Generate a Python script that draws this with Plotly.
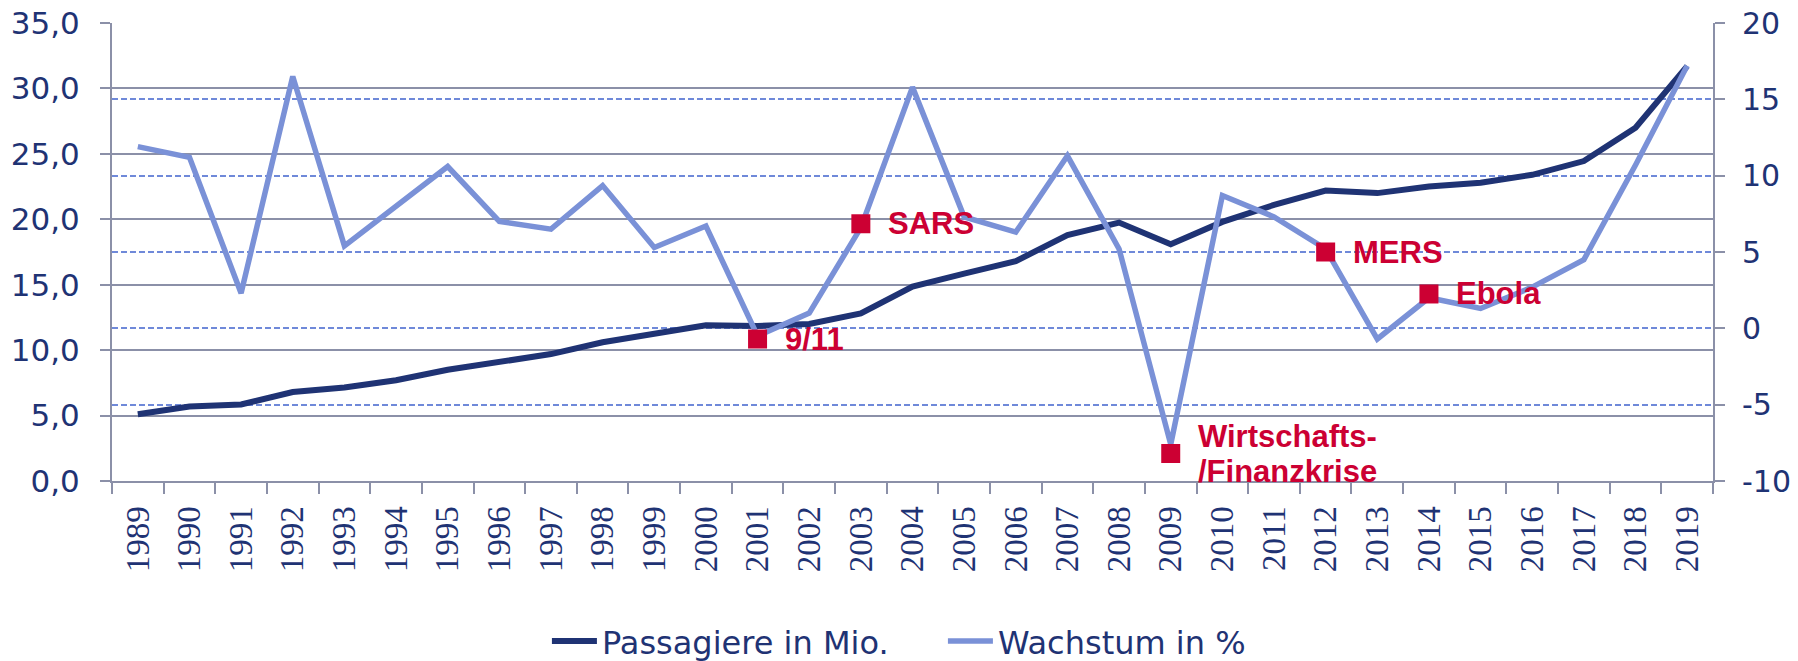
import plotly.graph_objects as go

years = [str(y) for y in range(1989, 2020)]
passagiere = [5.1, 5.7, 5.85, 6.8, 7.15, 7.7, 8.5, 9.1, 9.7, 10.6, 11.2, 11.9, 11.85, 12.0, 12.8,
              14.85, 15.85, 16.8, 18.8, 19.75, 18.1, 19.8, 21.1, 22.2, 22.0, 22.5, 22.8, 23.4, 24.45, 27.0, 31.7]
wachstum = [11.9, 11.2, 2.3, 16.5, 5.4, 8.0, 10.6, 7.0, 6.5, 9.35, 5.3, 6.7, -0.5, 1.0, 6.6,
            15.8, 7.3, 6.3, 11.3, 5.2, -7.6, 8.7, 7.3, 5.2, -0.7, 2.0, 1.3, 2.7, 4.5, 10.7, 17.2]

event_years = ["2001", "2003", "2009", "2012", "2014"]
event_values = [-0.7, 6.85, -8.2, 5.0, 2.25]
event_labels = ["9/11", "SARS", "Wirtschafts-<br>/Finanzkrise", "MERS", "Ebola"]

left_ticks = [0, 5, 10, 15, 20, 25, 30, 35]
right_ticks = [-10, -5, 0, 5, 10, 15, 20]

NAVY = "#1F3374"
LIGHT = "#7A91D7"
RED = "#CC0033"
GRID = "#8B90A8"
DASH = "#6F89D9"
FONT = "DejaVu Sans"

fig = go.Figure()
fig.add_trace(go.Scatter(x=years, y=passagiere, name="Passagiere in Mio.", mode="lines",
                         line=dict(color=NAVY, width=6), yaxis="y"))
fig.add_trace(go.Scatter(x=years, y=wachstum, name="Wachstum in %", mode="lines",
                         line=dict(color=LIGHT, width=5.5), yaxis="y2"))
fig.add_trace(go.Scatter(x=event_years, y=event_values, mode="markers", showlegend=False,
                         marker=dict(symbol="square", size=19, color=RED, line=dict(width=0)),
                         yaxis="y2", hoverinfo="skip"))

LINE_STEP = 35
for xv, yv, txt in zip(event_years, event_values, event_labels):
    parts = txt.split("<br>")
    n = len(parts)
    for k, part in enumerate(parts):
        shift = ((n - 1) / 2 - k) * LINE_STEP
        fig.add_annotation(x=years.index(xv), y=yv, xref="x", yref="y2", text="<b>" + part + "</b>",
                           showarrow=False, xanchor="left", yanchor="middle", align="left",
                           xshift=25, yshift=shift,
                           font=dict(family="Liberation Sans", size=31, color=RED))

fig.update_layout(
    width=1798, height=661,
    margin=dict(l=112, r=85, t=23, b=180, autoexpand=False),
    paper_bgcolor="white", plot_bgcolor="white",
    font=dict(family=FONT, color=NAVY, size=30),
    showlegend=True,
    legend=dict(orientation="h", x=0.519, xanchor="center", y=-0.35, yanchor="middle",
                font=dict(family=FONT, size=32, color=NAVY), itemwidth=45, entrywidth=336,
                bgcolor="rgba(0,0,0,0)"),
    xaxis=dict(type="category", range=[-0.5, 30.5], tickson="boundaries", ticks="outside",
               ticklen=11, tickcolor=GRID, tickwidth=2, tickangle=-90,
               tickfont=dict(family="Liberation Sans Narrow", size=33, color=NAVY),
               ticklabelstandoff=10, ticklabeloverflow="allow",
               showline=True, linecolor=GRID, linewidth=2, showgrid=False),
    yaxis=dict(range=[0, 35], tickmode="array", tickvals=left_ticks,
               ticktext=[f"{v:.1f}".replace(".", ",") for v in left_ticks],
               ticks="outside", ticklen=10, tickcolor=GRID, tickwidth=2,
               showline=True, linecolor=GRID, linewidth=2,
               showgrid=True, gridcolor=GRID, gridwidth=2, zeroline=False,
               tickfont=dict(family=FONT, size=31, color=NAVY), ticklabelstandoff=14,
               ticklabeloverflow="allow"),
    yaxis2=dict(range=[-10, 20], tickmode="array", tickvals=right_ticks,
                ticktext=[str(v) for v in right_ticks], overlaying="y", side="right",
                ticks="outside", ticklen=10, tickcolor=GRID, tickwidth=2,
                showline=True, linecolor=GRID, linewidth=2,
                showgrid=True, gridcolor=DASH, gridwidth=1.5, griddash="6px,3px", zeroline=False,
                tickfont=dict(family=FONT, size=30, color=NAVY), ticklabelstandoff=11,
                ticklabeloverflow="allow"),
)

fig.write_html("out.html", config={"displayModeBar": False},
               post_script="document.body.style.margin='0';")
